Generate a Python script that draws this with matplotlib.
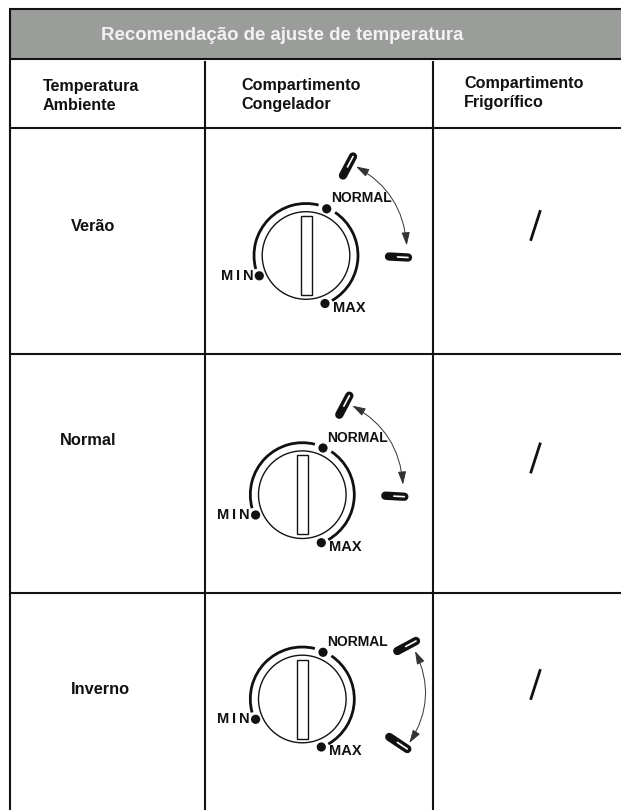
import matplotlib
matplotlib.use('Agg')
import matplotlib.pyplot as plt
from matplotlib.patches import Arc, Circle, Rectangle, FancyArrowPatch

plt.rcParams['font.family'] = ['Liberation Sans', 'DejaVu Sans']

title = 'Recomendação de ajuste de temperatura'
col_heads = ['Temperatura\nAmbiente', 'Compartimento\nCongelador', 'Compartimento\nFrigorífico']
seasons = ['Verão', 'Normal', 'Inverno']
dial_labels = ['MIN', 'NORMAL', 'MAX']
fridge_mark = ['/', '/', '/']

LINE = '#161213'
W, H = 621, 810
col_x = [10, 205, 433]
row_y = [9, 59, 128, 354, 593]
dials = [(306, 255.5), (302.3, 494.7), (302.3, 699)]
season_pos = [(93, 226.7), (88, 440.7), (100, 689)]
slash_x = [535.5, 535.5, 535.5]
slash_y = [225.5, 458, 684.5]
# handles, wide end then narrow end, relative to the dial centre
up_handles = [((47, -99), (37, -80)), ((47, -99), (37, -80)), ((113.7, -58), (95, -48))]
low_handles = [((102, 2), (83, 1)), ((102, 2), (83, 1)), ((105, 50), (87, 38))]
arrows = [((50, -89), (100.7, -10)), ((50, -89), (100.7, -10)), ((112.7, -48), (107, 44))]
arrow_rad = [-0.27, -0.27, -0.28]

fig = plt.figure(figsize=(W / 100, H / 100), dpi=100)
ax = fig.add_axes([0, 0, 1, 1])
ax.set_xlim(0, W)
ax.set_ylim(H, 0)
ax.axis('off')

# table frame
ax.add_patch(Rectangle((col_x[0], row_y[0]), W - col_x[0], row_y[1] - row_y[0], fc='#9b9d9b', ec='none'))
for y in row_y:
    ax.plot([col_x[0] - 1, W], [y, y], color=LINE, lw=1.5, solid_capstyle='butt')
ax.plot([col_x[0], col_x[0]], [row_y[0], H], color=LINE, lw=1.5, solid_capstyle='butt')
for x in col_x[1:]:
    ax.plot([x, x], [row_y[1] + 2, H], color=LINE, lw=1.5, solid_capstyle='butt')

ax.text(101, 40, title, color='#f2f2f2', fontsize=13.4, fontweight='bold', va='baseline')
head_x = [43, 241, 464]
head_y = [91, 90, 88]
for x, y, s in zip(head_x, head_y, col_heads):
    l1, l2 = s.split('\n')
    ax.text(x, y, l1, color='#111111', fontsize=11.6, fontweight='bold', va='baseline')
    ax.text(x, y + 18.5, l2, color='#111111', fontsize=11.6, fontweight='bold', va='baseline')

for (x, y), s in zip(season_pos, seasons):
    ax.text(x, y, s, color='#111111', fontsize=11.8, fontweight='bold', ha='center', va='center')

for x, y in zip(slash_x, slash_y):
    ax.plot([x - 4.5, x + 4.5], [y + 14, y - 14], color='#111111', lw=2)


def handle(cx, cy, wide, narrow):
    p = [cx + wide[0], cy + wide[1]]
    q = [cx + narrow[0], cy + narrow[1]]
    ax.plot([p[0], q[0]], [p[1], q[1]], color='#111111', lw=6, solid_capstyle='round')
    mx = p[0] + (q[0] - p[0]) * 0.55
    my = p[1] + (q[1] - p[1]) * 0.55
    ax.plot([p[0], mx], [p[1], my], color='white', lw=1.2, solid_capstyle='round')


for i, (cx, cy) in enumerate(dials):
    ax.add_patch(Circle((cx, cy), 43.8, fc='none', ec=LINE, lw=1.0))
    # y axis is inverted, so arc angles run clockwise on screen
    ax.add_patch(Arc((cx, cy), 104, 104, theta1=-195, theta2=-76, color='#111111', lw=2.0))
    ax.add_patch(Arc((cx, cy), 104, 104, theta1=-56, theta2=60, color='#111111', lw=2.0))
    ax.add_patch(Rectangle((cx - 5.5, cy - 39.5), 11.3, 79, fc='white', ec=LINE, lw=1.0))
    for dx, dy in [(-46.7, 20.3), (20.7, -46.7), (19, 48)]:
        ax.add_patch(Circle((cx + dx, cy + dy), 4.6, fc='#111111', ec='none'))
    for ch, dx in zip(dial_labels[0], [-78.7, -68, -58]):
        ax.text(cx + dx, cy + 20.3, ch, fontweight='bold', fontsize=10.5, color='#111111', ha='center', va='center')
    ax.text(cx + 55, cy - 57, dial_labels[1], fontweight='bold', fontsize=10, color='#111111', ha='center', va='center')
    ax.text(cx + 43, cy + 52, dial_labels[2], fontweight='bold', fontsize=10.5, color='#111111', ha='center', va='center')

    handle(cx, cy, *up_handles[i])
    handle(cx, cy, *low_handles[i])
    a, b = arrows[i]
    ax.add_patch(FancyArrowPatch((cx + a[0], cy + a[1]), (cx + b[0], cy + b[1]),
                                 connectionstyle='arc3,rad=%s' % arrow_rad[i],
                                 arrowstyle='<|-|>,head_length=0.8,head_width=0.25',
                                 mutation_scale=10, lw=0.7, color='#333333', shrinkA=0, shrinkB=0))

fig.savefig('out.png', dpi=100)
